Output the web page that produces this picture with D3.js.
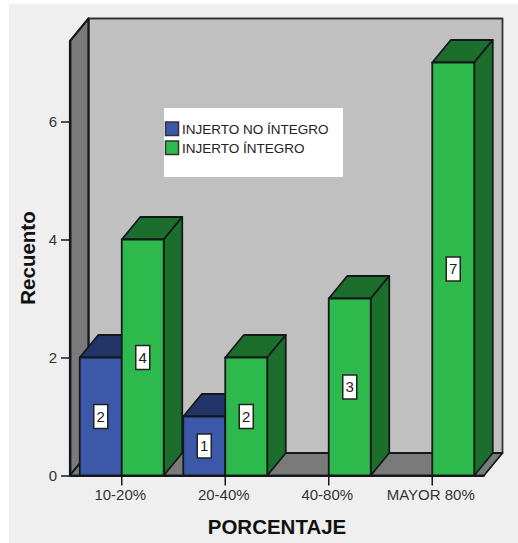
<!DOCTYPE html>
<html>
<head>
<meta charset="utf-8">
<script src="https://cdn.jsdelivr.net/npm/d3@7"></script>
<style>
  html, body { margin: 0; padding: 0; background: #fff; }
  svg { display: block; }
  text { font-family: "Liberation Sans", Arial, sans-serif; }
</style>
</head>
<body>
<svg id="chart" width="518" height="543"></svg>
<script>
// Counts per graft-percentage band, one array per series
const categories = ["10-20%", "20-40%", "40-80%", "MAYOR 80%"];
const noIntegro = [2, 1, 0, 0];
const integro = [4, 2, 3, 7];
const yTicks = [0, 2, 4, 6];
const seriesNames = ["INJERTO NO ÍNTEGRO", "INJERTO ÍNTEGRO"];
const xTitle = "PORCENTAJE";
const yTitle = "Recuento";

const palette = [
  { front: "#3c58a9", shade: "#233568" },
  { front: "#2eb94d", shade: "#1c6e2d" }
];
const ink = "#14181a";
const wallGrey = "#7a7a7a";
const backGrey = "#c0c0c0";

const plot = { left: 70, right: 484, top: 41, bottom: 475.5 };
const depth = { dx: 18.5, dy: -22.5 };
const unit = 59;

const svg = d3.select("#chart");
svg.append("rect").attr("x", 9).attr("y", 4).attr("width", 509).attr("height", 539).attr("fill", "#efefef");

const x = d3.scaleBand().domain(categories).range([plot.left, plot.right]);
const y = d3.scaleLinear()
  .domain([0, (plot.bottom - plot.top) / unit])
  .range([plot.bottom, plot.top]);
const barWidth = 42;

const pts = a => a.map(p => p.join(",")).join(" ");
const poly = (a, fill, stroke = ink, w = 1.8) => svg.append("polygon")
  .attr("points", pts(a)).attr("fill", fill).attr("stroke", stroke)
  .attr("stroke-width", w).attr("stroke-linejoin", "round");

// Chart box: back wall, left wall and floor
const { left: L, right: R, top: T, bottom: B } = plot;
const { dx, dy } = depth;
poly([[L + dx, T + dy], [R + dx, T + dy], [R + dx, B + dy], [L + dx, B + dy]], backGrey, "#333", 1.8);
poly([[L, T], [L + dx, T + dy], [L + dx, B + dy], [L, B]], wallGrey, ink, 2.2);
poly([[L, B], [L + dx, B + dy], [R + dx, B + dy], [R, B]], wallGrey, ink, 1.8);

// Each bar is a front face plus a top and a side face pushed back by the depth offset
function drawBar(x0, value, colors) {
  const x1 = x0 + barWidth, yTop = y(value), y0 = y(0);
  poly([[x0, yTop], [x0 + dx, yTop + dy], [x1 + dx, yTop + dy], [x1, yTop]], colors.shade);
  poly([[x1, yTop], [x1 + dx, yTop + dy], [x1 + dx, y0 + dy], [x1, y0]], colors.shade);
  poly([[x0, yTop], [x1, yTop], [x1, y0], [x0, y0]], colors.front);
}

function valueLabel(cx, value) {
  const cy = y(value / 2);
  const g = svg.append("g");
  g.append("rect").attr("x", cx - 7).attr("y", cy - 12).attr("width", 14).attr("height", 24)
    .attr("fill", "#fff").attr("stroke", "#222").attr("stroke-width", 1.5);
  g.append("text").attr("x", cx).attr("y", cy).attr("dy", "0.36em")
    .attr("text-anchor", "middle").attr("font-size", 15).attr("fill", "#222").text(value);
}

// Series are drawn left to right, blue first so the green front faces overlap its side
const center = c => x(c) + x.bandwidth() / 2;
categories.forEach((c, i) => {
  if (noIntegro[i] > 0) drawBar(center(c) - barWidth, noIntegro[i], palette[0]);
  if (integro[i] > 0) drawBar(center(c), integro[i], palette[1]);
});

// Axes
const xAxis = d3.axisBottom(x).tickSizeInner(10).tickSizeOuter(0).tickPadding(3);
const yAxis = d3.axisLeft(y).tickValues(yTicks).tickFormat(d3.format("d")).tickSizeInner(9).tickSizeOuter(0).tickPadding(4);

const gx = svg.append("g").attr("transform", `translate(0,${B})`).call(xAxis);
const gy = svg.append("g").attr("transform", `translate(${L},0)`).call(yAxis);
[gx, gy].forEach(g => {
  g.select(".domain").attr("stroke", ink).attr("stroke-width", 1.8);
  g.selectAll(".tick line").attr("stroke", ink).attr("stroke-width", 1.5);
  g.selectAll(".tick text").attr("fill", "#333").attr("font-size", 15)
    .attr("font-family", '"Liberation Sans", Arial, sans-serif');
});
gx.selectAll(".tick text").attr("dx", -1.5).attr("y", 14);

// Value labels sit above the axis ticks, at the middle of each bar
categories.forEach((c, i) => {
  if (noIntegro[i] > 0) valueLabel(center(c) - barWidth / 2, noIntegro[i]);
  if (integro[i] > 0) valueLabel(center(c) + barWidth / 2, integro[i]);
});

// Legend
svg.append("rect").attr("x", 164).attr("y", 108).attr("width", 179).attr("height", 69).attr("fill", "#fff");
seriesNames.forEach((name, i) => {
  const top = 122 + i * 19;
  svg.append("rect").attr("x", 165.5).attr("y", top).attr("width", 13).attr("height", 13.5)
    .attr("fill", palette[i].front).attr("stroke", "#333").attr("stroke-width", 1.5);
  svg.append("text").attr("x", 182).attr("y", top + 7).attr("dy", "0.36em")
    .attr("font-size", 13.5).attr("fill", "#222").text(name);
});

// Axis titles
svg.append("text").attr("x", 277).attr("y", 527).attr("dy", "0.36em").attr("text-anchor", "middle")
  .attr("font-size", 20.5).attr("font-weight", "bold").attr("fill", "#111").text(xTitle);
svg.append("text").attr("transform", "translate(28,258) rotate(-90)").attr("dy", "0.36em")
  .attr("text-anchor", "middle").attr("font-size", 20.5).attr("font-weight", "bold").attr("fill", "#111").text(yTitle);
</script>
</body>
</html>
